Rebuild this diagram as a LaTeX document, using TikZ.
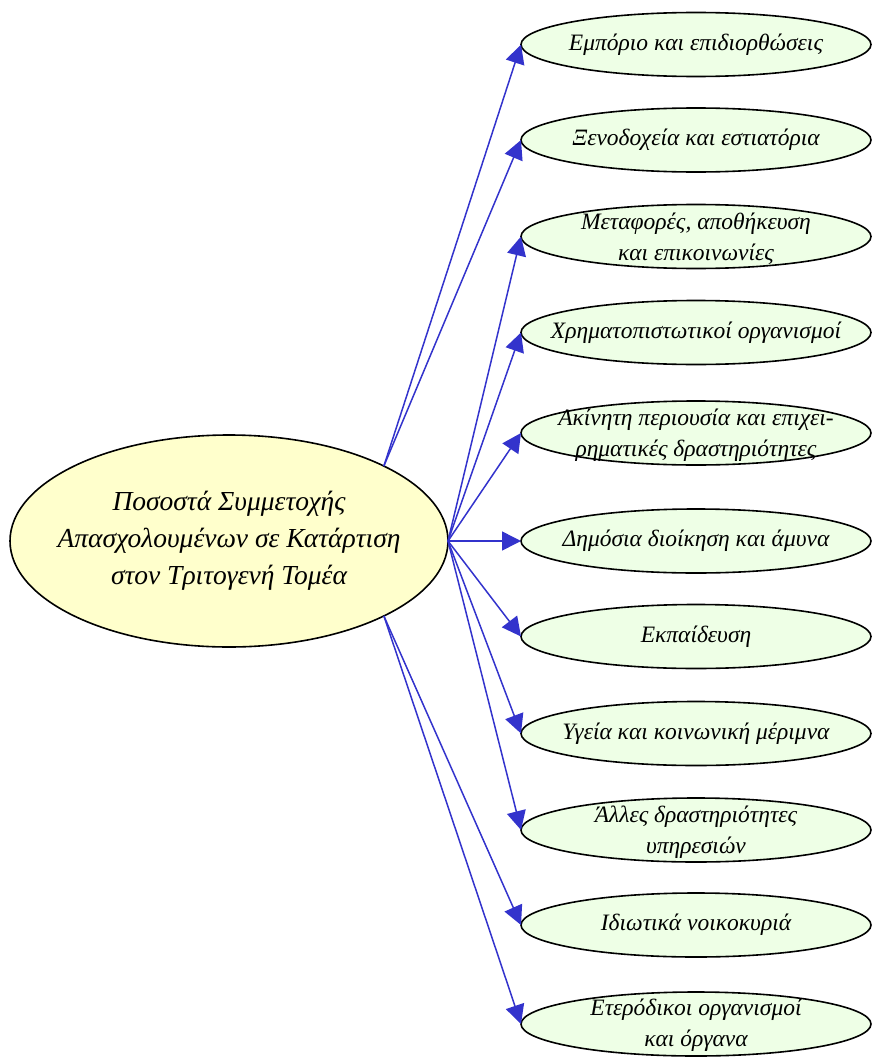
\documentclass[tikz,border=0pt]{standalone}
\usepackage{fontspec}
\setmainfont{Liberation Serif}
\usetikzlibrary{shapes.geometric,arrows.meta}
\definecolor{centerfill}{HTML}{FFFFCC}
\definecolor{leaffill}{HTML}{EEFFE6}
\definecolor{arrowblue}{HTML}{3333CC}
\tikzset{
  centernode/.style={ellipse,draw=black,line width=1.6pt,fill=centerfill,minimum width=438pt,minimum height=212pt,inner sep=0pt,outer sep=0pt},
  centertext/.style={align=center,font=\fontsize{27.5}{37}\selectfont\itshape,inner sep=0pt},
  leafnode/.style={ellipse,draw=black,line width=1.6pt,fill=leaffill,minimum width=350pt,minimum height=64pt,inner sep=0pt,outer sep=0pt},
  leaftext/.style={align=center,font=\fontsize{23.5}{31}\selectfont\itshape,inner sep=0pt},
  conn/.style={draw=arrowblue,line width=1.5pt,-{Triangle[length=19pt,width=19pt]},shorten >=0pt}
}
\begin{document}
\begin{tikzpicture}[x=1pt,y=-1pt]
\useasboundingbox (0,0) rectangle (872,1057);
\node[centernode] (c) at (229,541) {};
\node[centertext] (ct) at (c.center) {Ποσοστά Συμμετοχής\\Απασχολουμένων σε Κατάρτιση\\στον Τριτογενή Τομέα};
\node[leafnode] (e1) at (696,44.5) {};
\node[leaftext] (t1) at (e1.center) {Εμπόριο και επιδιορθώσεις};
\node[leafnode] (e2) at (696,140) {};
\node[leaftext] (t2) at (e2.center) {Ξενοδοχεία και εστιατόρια};
\node[leafnode] (e3) at (696,236.5) {};
\node[leaftext] (t3) at ([yshift=-2pt]e3.center) {Μεταφορές, αποθήκευση\\και επικοινωνίες};
\node[leafnode] (e4) at (696,332.5) {};
\node[leaftext] (t4) at (e4.center) {Χρηματοπιστωτικοί οργανισμοί};
\node[leafnode] (e5) at (696,433) {};
\node[leaftext] (t5) at ([yshift=-2pt]e5.center) {Ακίνητη περιουσία και επιχει-\\ρηματικές δραστηριότητες};
\node[leafnode] (e6) at (696,541) {};
\node[leaftext] (t6) at (e6.center) {Δημόσια διοίκηση και άμυνα};
\node[leafnode] (e7) at (696,636.5) {};
\node[leaftext] (t7) at (e7.center) {Εκπαίδευση};
\node[leafnode] (e8) at (696,733.5) {};
\node[leaftext] (t8) at (e8.center) {Υγεία και κοινωνική μέριμνα};
\node[leafnode] (e9) at (696,830) {};
\node[leaftext] (t9) at ([yshift=-2pt]e9.center) {Άλλες δραστηριότητες\\υπηρεσιών};
\node[leafnode] (e10) at (696,925) {};
\node[leaftext] (t10) at (e10.center) {Ιδιωτικά νοικοκυριά};
\node[leafnode] (e11) at (696,1024) {};
\node[leaftext] (t11) at ([yshift=-1pt]e11.center) {Ετερόδικοι οργανισμοί\\και όργανα};
\draw[conn] (c.north east) -- (e1.west);
\draw[conn] (c.north east) -- (e2.west);
\draw[conn] (c.east) -- (e3.west);
\draw[conn] (c.east) -- (e4.west);
\draw[conn] (c.east) -- (e5.west);
\draw[conn] (c.east) -- (e6.west);
\draw[conn] (c.east) -- (e7.west);
\draw[conn] (c.east) -- (e8.west);
\draw[conn] (c.east) -- (e9.west);
\draw[conn] (c.south east) -- (e10.west);
\draw[conn] (c.south east) -- (e11.west);
\end{tikzpicture}
\end{document}
